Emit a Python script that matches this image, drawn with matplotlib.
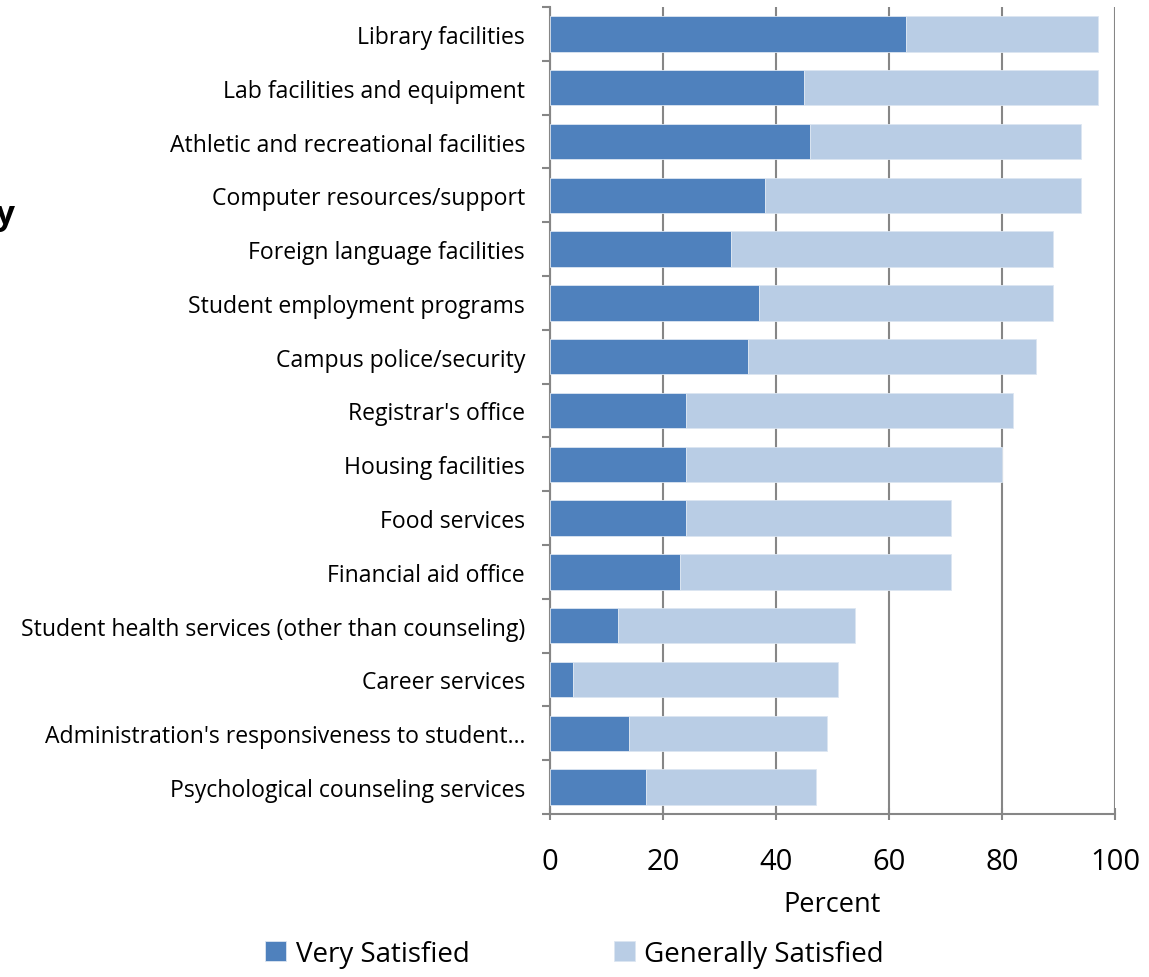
import numpy as np
import matplotlib.pyplot as plt
from matplotlib.ticker import FixedLocator

# -------------------------------
# Data (top to bottom)
# -------------------------------
categories = [
    "Library facilities",
    "Lab facilities and equipment",
    "Athletic and recreational facilities",
    "Computer resources/support",
    "Foreign language facilities",
    "Student employment programs",
    "Campus police/security",
    "Registrar's office",
    "Housing facilities",
    "Food services",
    "Financial aid office",
    "Student health services (other than counseling)",
    "Career services",
    "Administration's responsiveness to student\u2026",
    "Psychological counseling services",
]
very_satisfied = [63, 45, 46, 38, 32, 37, 35, 24, 24, 24, 23, 12, 4, 14, 17]
generally_satisfied = [34, 52, 48, 56, 57, 52, 51, 58, 56, 47, 48, 42, 47, 35, 30]

dark_blue = "#4F81BD"
light_blue = "#B9CDE5"
grey = "#868686"

plt.rcParams["font.family"] = ["Open Sans", "DejaVu Sans"]

fig = plt.figure(figsize=(11.49, 9.78), dpi=100)
ax = fig.add_axes([0.4787, 0.1667, 0.4917, 0.8251])

y = np.arange(len(categories))
ax.barh(y, very_satisfied, height=0.66, color=dark_blue,
        edgecolor="#DCE6F2", linewidth=0.6, label="Very Satisfied", zorder=3)
ax.barh(y, generally_satisfied, left=very_satisfied, height=0.66,
        color=light_blue, edgecolor="#DCE6F2", linewidth=0.6,
        label="Generally Satisfied", zorder=3)

ax.set_ylim(len(categories) - 0.5, -0.5)
ax.set_xlim(0, 100)
ax.set_xticks([0, 20, 40, 60, 80, 100])
ax.set_yticks(y)
ax.set_yticklabels(categories, fontsize=16.6)
ax.yaxis.set_minor_locator(FixedLocator(np.arange(-0.5, len(categories), 1)))
ax.tick_params(axis="y", which="major", length=0, pad=18)
ax.tick_params(axis="y", which="minor", length=6, width=1.5, color=grey)
ax.tick_params(axis="x", which="major", length=8, width=1.5, color=grey,
               direction="inout", labelsize=21, pad=20)

ax.grid(axis="x", color=grey, linewidth=1.5, zorder=0)
for side in ["top", "right"]:
    ax.spines[side].set_visible(False)
for side in ["left", "bottom"]:
    ax.spines[side].set_color(grey)
    ax.spines[side].set_linewidth(1.5)

ax.set_xlabel("Percent", fontsize=19.5, labelpad=10)

# clipped title fragment at the left edge
fig.text(-0.004, 0.78, "y", fontsize=24, fontweight="bold", ha="left", va="center")

fig.legend(loc="lower center", bbox_to_anchor=(0.5, -0.016), ncol=2,
           frameon=False, fontsize=20, handlelength=0.75, handleheight=0.75,
           handletextpad=0.35, columnspacing=5.2)

fig.savefig("out.png", dpi=100)
